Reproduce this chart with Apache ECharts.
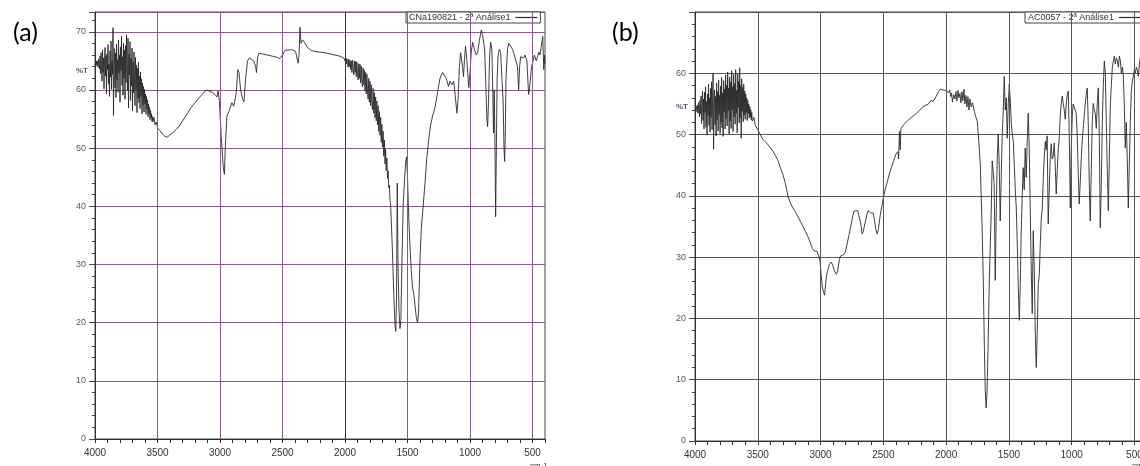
<!DOCTYPE html>
<html><head><meta charset="utf-8">
<script src="https://cdn.jsdelivr.net/npm/echarts@6/dist/echarts.min.js"></script>
<style>html,body{margin:0;padding:0;background:#fff}#c{width:1140px;height:466px}</style>
</head><body><div id="c"></div><script>
const xTickLabels = [4000, 3500, 3000, 2500, 2000, 1500, 1000, 500];
const yTickLabelsA = [0, 10, 20, 30, 40, 50, 60, 70];
const yTickLabelsB = [0, 10, 20, 30, 40, 50, 60];
const seriesNameA = 'CNa190821 - 2ª Análise1';
const seriesNameB = 'AC0057 - 2ª Análise1';

// panel (a): [wavenumber cm-1, %T]
const spectrumA = [
[4000,64.5],[3996,64.6],[3992,64.1],[3988,65.0],[3984,64.3],[3980,64.9],[3976,63.9],[3972,65.3],[3968,64.4],[3964,63.6],
[3960,65.8],[3956,62.8],[3952,66.4],[3948,64.0],[3944,61.5],[3940,66.9],[3936,63.0],[3932,65.5],[3928,60.2],[3924,64.8],
[3920,67.3],[3916,62.4],[3912,65.9],[3908,59.3],[3904,66.2],[3900,63.5],[3896,67.8],[3892,61.0],[3888,64.4],[3884,58.9],
[3880,66.7],[3876,62.2],[3872,68.4],[3868,60.1],[3864,65.0],[3860,62.7],[3856,70.7],[3852,55.6],[3848,64.2],[3844,67.1],
[3840,60.4],[3836,66.3],[3832,58.7],[3828,67.9],[3824,61.8],[3820,65.2],[3816,59.6],[3812,68.6],[3808,62.9],[3804,66.0],
[3800,57.9],[3796,67.4],[3792,63.3],[3788,69.2],[3784,60.8],[3780,65.7],[3776,59.1],[3772,68.0],[3768,62.0],[3764,66.8],
[3760,58.4],[3756,67.6],[3752,61.3],[3748,69.5],[3744,63.8],[3740,59.9],[3736,68.9],[3732,56.9],[3728,66.1],[3724,62.6],
[3720,68.3],[3716,58.2],[3712,65.4],[3708,60.7],[3704,67.2],[3700,56.4],[3696,64.9],[3692,59.5],[3688,66.5],[3684,61.7],
[3680,57.3],[3676,65.6],[3672,60.0],[3668,64.3],[3664,56.1],[3660,63.7],[3656,58.6],[3652,64.8],[3648,57.8],[3644,62.4],
[3640,56.8],[3636,63.1],[3632,58.9],[3628,61.9],[3624,55.9],[3620,61.2],[3616,57.4],[3612,60.6],[3608,56.2],[3604,60.1],
[3600,57.6],[3596,59.3],[3592,55.8],[3588,58.9],[3584,56.7],[3580,58.3],[3576,55.4],[3572,57.6],[3568,55.9],[3564,57.0],
[3560,54.9],[3556,56.5],[3552,55.2],[3548,55.9],[3544,54.6],[3540,55.4],[3536,54.5],[3528,55.3],[3520,54.0],[3510,54.5],
[3500,53.5],[3480,53.0],[3460,52.4],[3440,52.0],[3420,51.9],[3400,52.3],[3380,52.6],[3350,53.2],[3320,54.0],[3290,55.0],
[3260,56.0],[3230,57.0],[3200,57.8],[3170,58.6],[3140,59.3],[3120,59.8],[3100,60.0],[3080,59.7],[3060,59.6],[3040,59.2],
[3025,58.8],[3015,59.8],[3005,58.0],[2990,52.0],[2975,47.0],[2965,45.5],[2958,50.0],[2945,55.5],[2925,56.5],[2905,57.8],
[2890,57.2],[2880,57.0],[2870,59.5],[2858,63.5],[2848,63.0],[2835,60.0],[2820,58.5],[2808,58.0],[2795,62.0],[2780,65.0],
[2765,65.5],[2750,65.3],[2730,65.0],[2715,64.0],[2708,63.0],[2700,65.5],[2690,66.3],[2660,66.2],[2620,66.0],[2580,65.8],
[2540,65.6],[2520,65.4],[2500,66.0],[2480,66.8],[2450,66.9],[2420,66.9],[2395,66.6],[2385,65.5],[2375,64.6],[2368,66.0],
[2360,70.8],[2352,68.0],[2340,68.6],[2325,68.2],[2300,67.3],[2270,66.8],[2240,66.6],[2200,66.5],[2160,66.4],[2120,66.2],
[2080,66.0],[2040,65.8],[2010,65.5],[2005,65.4],[2000,65.0],[1995,65.6],[1990,64.5],[1985,65.4],[1980,64.6],[1975,63.9],
[1970,65.3],[1965,64.0],[1960,65.1],[1955,63.5],[1950,65.0],[1945,63.0],[1940,65.1],[1935,63.6],[1930,62.6],[1925,65.0],
[1920,63.0],[1915,64.9],[1910,62.3],[1905,64.8],[1900,62.8],[1895,61.7],[1890,64.5],[1885,62.0],[1880,64.4],[1875,61.2],
[1870,64.1],[1865,61.6],[1860,60.5],[1855,63.8],[1850,60.9],[1845,63.4],[1840,59.8],[1835,63.0],[1830,59.3],[1825,62.7],
[1820,59.8],[1815,58.4],[1810,62.0],[1805,57.9],[1800,61.5],[1795,57.3],[1790,60.9],[1785,57.8],[1780,56.6],[1775,60.3],
[1770,56.0],[1765,59.5],[1760,55.2],[1755,58.8],[1750,54.7],[1745,58.1],[1740,54.0],[1735,57.3],[1730,52.9],[1725,56.3],
[1720,52.2],[1715,55.3],[1710,51.0],[1705,54.1],[1700,50.2],[1695,52.9],[1690,48.6],[1685,51.4],[1680,47.3],[1675,49.8],
[1670,46.1],[1665,48.3],[1660,44.8],[1655,46.1],[1650,43.2],[1645,43.6],[1640,41.0],[1635,40.4],[1630,37.5],[1620,32.0],
[1610,25.0],[1600,19.5],[1594,18.5],[1588,24.0],[1582,44.0],[1576,30.0],[1568,22.0],[1560,19.0],[1553,20.5],[1545,30.0],
[1535,40.0],[1525,44.0],[1515,47.5],[1508,48.5],[1500,45.0],[1490,38.0],[1480,33.0],[1470,29.0],[1460,26.0],[1450,25.0],
[1440,23.0],[1430,21.0],[1420,20.0],[1412,21.5],[1400,31.0],[1390,36.0],[1375,40.0],[1360,44.0],[1345,48.5],[1330,51.5],
[1315,54.0],[1300,55.5],[1280,57.0],[1260,59.5],[1240,62.0],[1220,63.0],[1205,63.2],[1190,62.0],[1172,60.6],[1160,61.5],
[1145,60.9],[1130,61.5],[1118,59.0],[1105,56.0],[1095,58.5],[1085,64.0],[1075,66.4],[1060,64.0],[1052,62.3],[1045,65.0],
[1036,67.5],[1025,65.0],[1010,60.4],[1000,63.0],[990,66.5],[979,68.2],[965,67.0],[950,66.0],[939,66.4],[925,68.5],
[910,70.3],[900,69.5],[890,68.0],[883,67.0],[875,62.0],[865,55.0],[859,53.7],[852,58.0],[843,66.0],[835,68.2],
[825,67.0],[818,60.0],[812,52.6],[806,60.0],[800,50.0],[795,38.2],[790,48.0],[783,62.0],[775,66.0],[765,67.0],
[755,66.4],[745,62.0],[735,58.0],[728,50.0],[723,47.7],[718,52.0],[712,62.0],[700,67.0],[690,68.0],[675,67.8],
[660,67.0],[645,66.0],[635,66.1],[620,64.0],[611,60.0],[603,64.0],[595,65.7],[580,65.8],[571,65.5],[560,66.0],
[545,65.0],[531,59.2],[520,61.0],[508,64.0],[499,64.7],[485,66.0],[470,65.0],[459,65.8],[450,66.5],[440,66.0],
[430,67.5],[418,69.2],[410,63.5],[404,66.0],[400,64.5]
];

// panel (b): [wavenumber cm-1, %T]
const spectrumB = [
[4000,54.0],[3996,54.3],[3992,53.9],[3988,54.6],[3984,53.7],[3980,54.8],[3976,53.5],[3972,55.2],[3968,54.0],[3964,52.9],
[3960,55.6],[3956,53.4],[3952,56.3],[3948,51.8],[3944,55.0],[3940,57.1],[3936,52.3],[3932,55.8],[3928,50.9],[3924,56.9],
[3920,53.6],[3916,57.8],[3912,51.2],[3908,55.4],[3904,49.9],[3900,56.6],[3896,53.1],[3892,58.2],[3888,51.5],[3884,56.0],
[3880,50.4],[3876,57.5],[3872,52.8],[3868,58.6],[3864,50.8],[3860,55.7],[3856,60.0],[3852,47.6],[3848,54.9],[3844,57.3],
[3840,51.6],[3836,56.2],[3832,49.8],[3828,58.4],[3824,52.4],[3820,57.0],[3816,50.6],[3812,58.9],[3808,53.3],[3804,56.4],
[3800,50.2],[3796,57.9],[3792,52.0],[3788,59.3],[3784,51.1],[3780,56.8],[3776,49.7],[3772,58.8],[3768,53.7],[3764,57.4],
[3760,50.9],[3756,59.7],[3752,52.6],[3748,58.1],[3744,51.4],[3740,60.2],[3736,53.9],[3732,57.6],[3728,50.1],[3724,59.4],
[3720,52.2],[3716,58.6],[3712,51.0],[3708,60.4],[3704,54.1],[3700,57.8],[3696,50.5],[3692,59.8],[3688,52.9],[3684,58.3],
[3680,51.7],[3676,60.6],[3672,53.5],[3668,57.2],[3664,50.3],[3660,59.9],[3656,54.4],[3652,58.7],[3648,51.9],[3644,60.9],
[3640,52.7],[3636,58.0],[3632,49.4],[3628,59.1],[3624,53.8],[3620,57.7],[3616,52.1],[3612,58.2],[3608,53.2],[3604,57.1],
[3600,52.5],[3596,56.6],[3592,53.6],[3588,56.0],[3584,52.3],[3580,55.6],[3576,53.4],[3572,55.0],[3568,52.7],[3564,54.6],
[3560,52.9],[3556,54.1],[3552,52.4],[3548,53.6],[3544,52.2],[3540,52.0],[3530,52.8],[3520,51.5],[3510,51.8],[3500,50.8],
[3480,50.0],[3460,49.2],[3440,48.8],[3420,48.4],[3400,47.8],[3380,47.3],[3360,46.6],[3340,45.8],[3320,44.6],[3300,43.5],
[3280,42.0],[3260,40.0],[3240,38.8],[3220,38.0],[3200,37.4],[3180,36.6],[3160,35.8],[3140,35.0],[3120,34.2],[3100,33.3],
[3080,32.3],[3065,31.4],[3050,31.0],[3040,31.3],[3030,31.0],[3015,30.2],[3004,29.4],[2995,27.0],[2985,25.0],[2975,24.2],
[2968,23.8],[2960,25.5],[2950,27.3],[2940,28.0],[2930,28.8],[2915,29.2],[2905,28.8],[2890,27.8],[2875,27.2],[2865,27.6],
[2850,29.6],[2840,30.2],[2820,30.4],[2804,30.7],[2790,32.0],[2775,33.5],[2765,34.5],[2750,36.0],[2735,37.5],[2720,37.7],
[2705,37.6],[2693,37.3],[2680,35.5],[2669,33.8],[2660,34.2],[2645,35.6],[2630,37.0],[2621,37.6],[2600,37.2],[2581,37.2],
[2570,36.0],[2560,34.5],[2549,33.8],[2540,34.5],[2525,36.8],[2510,38.5],[2494,40.3],[2470,42.2],[2446,44.0],[2420,45.6],
[2400,46.8],[2385,47.2],[2378,46.0],[2372,50.5],[2366,47.5],[2360,51.0],[2350,51.2],[2330,51.8],[2300,52.4],[2263,53.0],
[2230,53.6],[2200,54.2],[2183,54.6],[2160,54.8],[2140,55.0],[2120,55.6],[2103,55.4],[2080,56.2],[2060,57.0],[2047,57.4],
[2030,57.3],[2015,57.5],[2000,57.2],[1992,57.4],[1980,56.8],[1972,57.3],[1964,56.2],[1956,56.8],[1950,55.3],[1944,55.1],
[1938,56.5],[1930,55.8],[1922,57.0],[1914,55.5],[1906,57.2],[1898,56.0],[1890,56.7],[1882,55.2],[1874,57.0],[1866,55.5],
[1858,57.4],[1850,55.0],[1842,56.4],[1834,54.5],[1826,56.2],[1818,54.0],[1810,55.8],[1800,54.5],[1790,55.2],[1784,55.0],
[1775,53.8],[1765,53.0],[1752,52.2],[1740,49.0],[1728,45.2],[1715,36.0],[1705,27.3],[1695,15.0],[1688,8.0],[1681,5.4],
[1673,8.5],[1665,16.4],[1655,27.0],[1648,32.0],[1641,37.1],[1633,45.7],[1625,44.0],[1617,42.0],[1609,26.2],[1600,38.0],
[1593,46.0],[1585,50.1],[1577,45.0],[1569,35.9],[1560,44.0],[1553,50.0],[1545,53.8],[1537,59.5],[1529,54.0],[1521,56.0],
[1513,49.4],[1505,55.0],[1497,58.2],[1490,56.0],[1481,52.0],[1473,50.0],[1465,48.9],[1457,45.0],[1449,41.0],[1441,38.0],
[1433,32.0],[1425,25.0],[1417,19.7],[1410,25.0],[1402,34.0],[1394,40.0],[1386,44.6],[1378,41.0],[1370,47.8],[1362,43.0],
[1354,49.0],[1346,53.5],[1338,48.0],[1330,38.0],[1322,28.0],[1314,20.8],[1306,34.3],[1298,28.0],[1290,18.0],[1282,12.0],
[1274,18.0],[1266,25.7],[1258,27.0],[1250,32.0],[1242,36.4],[1234,38.0],[1226,43.0],[1218,46.5],[1210,48.9],[1203,47.5],
[1195,49.8],[1187,35.4],[1180,40.0],[1171,46.0],[1163,48.5],[1155,46.0],[1147,46.5],[1139,48.6],[1131,45.0],[1123,40.3],
[1115,44.0],[1107,47.5],[1099,49.4],[1091,53.0],[1083,55.0],[1075,56.3],[1067,55.0],[1059,54.0],[1051,52.5],[1043,55.0],
[1035,56.5],[1027,57.1],[1019,50.0],[1011,38.0],[1003,48.0],[995,53.0],[988,55.0],[980,54.5],[972,54.0],[964,53.5],
[956,50.0],[948,44.0],[940,38.7],[932,42.0],[924,46.0],[916,49.0],[908,51.0],[900,53.0],[892,55.0],[884,56.5],
[876,57.6],[868,52.0],[860,42.0],[852,35.9],[844,44.0],[836,52.0],[828,55.1],[820,54.0],[812,53.5],[804,51.0],
[796,55.0],[788,57.6],[780,50.0],[772,34.8],[764,42.0],[756,52.0],[748,58.0],[740,62.0],[732,60.0],[724,52.0],
[716,44.0],[708,37.6],[700,46.0],[692,55.0],[684,58.0],[676,61.0],[668,62.0],[660,62.8],[652,61.5],[644,62.5],
[636,62.0],[628,61.0],[620,62.8],[612,62.0],[604,60.0],[596,61.0],[589,59.8],[581,55.0],[573,47.8],[565,52.0],
[557,46.0],[549,38.0],[541,45.0],[533,52.0],[525,57.0],[517,58.7],[509,59.5],[501,60.5],[493,60.0],[485,61.0],
[477,60.5],[469,59.5],[461,61.5],[450,63.0],[440,62.0],[430,60.5],[420,59.0],[410,60.0],[400,59.5]
];

const gridColorA = '#8a5a8c';
const gridColorB = '#555555';
const chart = echarts.init(document.getElementById('c'), null, {renderer: 'canvas'});

function xAxisCfg(idx) {
  return {
    type: 'value', gridIndex: idx, inverse: true, min: 400, max: 4000, interval: 100,
    axisLine: {show: true, onZero: false, lineStyle: {color: '#333', width: 1}},
    axisTick: {show: true, length: 4, lineStyle: {color: '#333'}},
    splitLine: {show: false},
    axisLabel: {
      show: true, margin: 9, fontSize: 10, color: '#333', fontFamily: 'Liberation Sans',
      showMinLabel: true, showMaxLabel: true, hideOverlap: false,
      formatter: v => xTickLabels.includes(v) ? String(v) : ''
    }
  };
}
function yAxisCfg(idx, max, labels, col) {
  return {
    type: 'value', gridIndex: idx, min: 0, max: max, interval: 10,
    axisLine: {show: true, lineStyle: {color: '#333', width: 1}},
    axisTick: {show: true, length: 6, lineStyle: {color: '#444'}},
    minorTick: {show: true, splitNumber: 5, length: 3, lineStyle: {color: '#444'}},
    splitLine: {show: true, lineStyle: {color: col, width: 1}},
    axisLabel: {
      margin: 9, fontSize: 9, color: '#4f5870', fontFamily: 'Liberation Sans',
      showMaxLabel: true,
      formatter: v => labels.includes(v) ? String(v) : ''
    }
  };
}
function gridMarks(col, special) {
  return {
    silent: true, animation: false, symbol: ['none', 'none'],
    label: {show: false},
    lineStyle: {color: col, width: 1, type: 'solid'},
    data: xTickLabels.filter(v => v < 4000).map(v => (special && v === special)
      ? {xAxis: v, lineStyle: {color: '#333', width: 1, type: 'solid'}}
      : {xAxis: v})
  };
}

const legendBase = {
  orient: 'horizontal', align: 'right', icon: 'rect', itemWidth: 22, itemHeight: 1.2,
  itemGap: 4, padding: [1, 3, 1, 3], borderColor: '#444', borderWidth: 1,
  backgroundColor: '#fff', selectedMode: false,
  textStyle: {fontSize: 9, color: '#333', fontFamily: 'Liberation Sans', padding: [0, 0, 0, 0]}
};

const option = {
  animation: false,
  backgroundColor: '#ffffff',
  title: [
    {text: '(a)', left: 8, top: 15, textStyle: {fontSize: 25, fontWeight: 'normal', color: '#000', fontFamily: 'Lato'}},
    {text: '(b)', left: 607, top: 15, textStyle: {fontSize: 25, fontWeight: 'normal', color: '#000', fontFamily: 'Lato'}},
    {text: '%T', left: 71, top: 62, textStyle: {fontSize: 8, fontWeight: 'bold', color: '#4f5870', fontFamily: 'Liberation Sans'}},
    {text: '%T', left: 671, top: 98, textStyle: {fontSize: 8, fontWeight: 'bold', color: '#4f5870', fontFamily: 'Liberation Sans'}},
    {text: 'cm-1', left: 525, top: 457, textStyle: {fontSize: 8, fontWeight: 'normal', color: '#333', fontFamily: 'Liberation Sans'}},
    {text: 'cm-1', left: 1127, top: 457, textStyle: {fontSize: 8, fontWeight: 'normal', color: '#333', fontFamily: 'Liberation Sans'}}
  ],
  legend: [
    Object.assign({}, legendBase, {data: [seriesNameA], left: 406, top: 12}),
    Object.assign({}, legendBase, {data: [seriesNameB], left: 1025, top: 12})
  ],
  grid: [
    {left: 95, top: 12, width: 450, height: 427, show: true, borderColor: '#444', borderWidth: 1, containLabel: false, outerBoundsMode: 'none'},
    {left: 695, top: 12, width: 452, height: 429, show: true, borderColor: '#444', borderWidth: 1, containLabel: false, outerBoundsMode: 'none'}
  ],
  xAxis: [xAxisCfg(0), xAxisCfg(1)],
  yAxis: [yAxisCfg(0, 73.4, yTickLabelsA, gridColorA), yAxisCfg(1, 70, yTickLabelsB, gridColorB)],
  series: [
    {
      name: seriesNameA, type: 'line', xAxisIndex: 0, yAxisIndex: 0, data: spectrumA,
      showSymbol: false, symbol: 'none', smooth: false, sampling: null,
      lineStyle: {color: '#2a2a2a', width: 0.9}, itemStyle: {color: '#2a2a2a'},
      markLine: gridMarks(gridColorA, 2000), z: 3
    },
    {
      name: seriesNameB, type: 'line', xAxisIndex: 1, yAxisIndex: 1, data: spectrumB,
      showSymbol: false, symbol: 'none', smooth: false, sampling: null,
      lineStyle: {color: '#2a2a2a', width: 0.9}, itemStyle: {color: '#2a2a2a'},
      markLine: gridMarks(gridColorB, null), z: 3
    }
  ]
};
chart.setOption(option);
</script></body></html>
